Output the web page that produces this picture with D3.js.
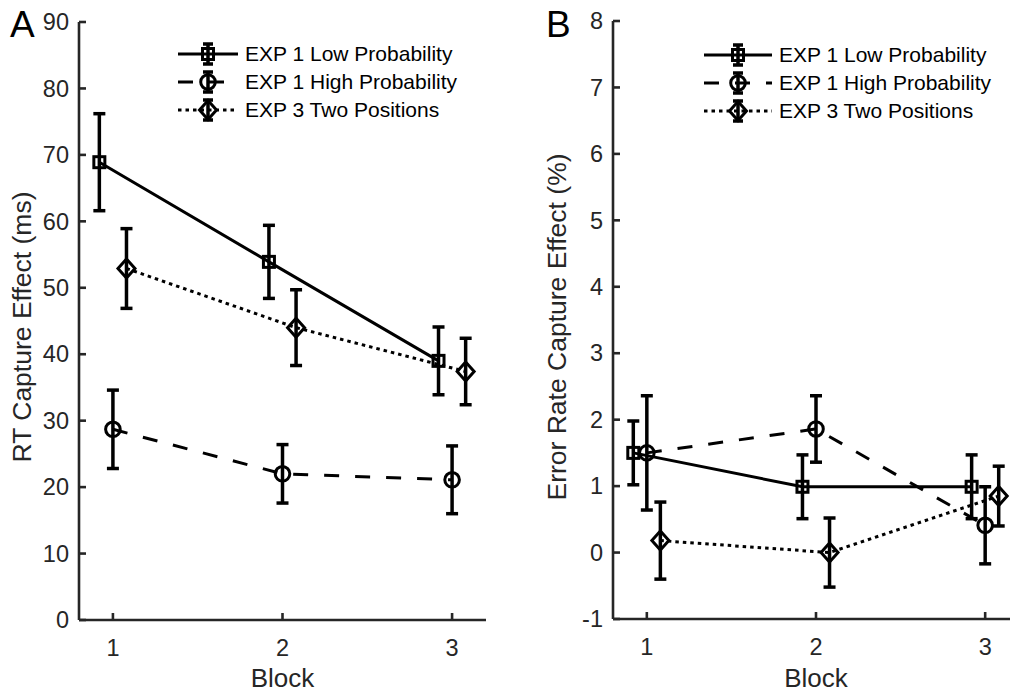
<!DOCTYPE html>
<html>
<head>
<meta charset="utf-8">
<script src="https://cdn.jsdelivr.net/npm/d3@7"></script>
<style>
  body { margin: 0; background: #fff; }
  text { font-family: "Liberation Sans", Arial, sans-serif; fill: #262626; }
</style>
</head>
<body>
<div id="chart"></div>
<script>
// data
var blocks = [1, 2, 3];
var seriesNames = ["EXP 1 Low Probability", "EXP 1 High Probability", "EXP 3 Two Positions"];
var xOffsets = [-0.08, 0, 0.08];

var rtLow = [68.9, 53.9, 39.0],  rtLowErr = [7.3, 5.5, 5.1];
var rtHigh = [28.7, 22.0, 21.1], rtHighErr = [5.9, 4.4, 5.1];
var rtTwo = [52.9, 44.0, 37.4],  rtTwoErr = [6.0, 5.7, 5.0];

var erLow = [1.5, 0.99, 0.99],   erLowErr = [0.48, 0.48, 0.48];
var erHigh = [1.5, 1.86, 0.41],  erHighErr = [0.86, 0.5, 0.58];
var erTwo = [0.18, 0.0, 0.85],   erTwoErr = [0.58, 0.52, 0.45];

var rtTicks = d3.range(0, 91, 10);
var erTicks = d3.range(-1, 9, 1);

var W = 1010, H = 695;
var axisColor = "#262626";

var svg = d3.select("#chart").append("svg")
    .attr("width", W)
    .attr("height", H);

var styles = [
    {dash: null, marker: "square"},
    {dash: "15,16", marker: "circle"},
    {dash: "3.5,4", marker: "diamond"}
];

function drawMarker(g, type, x, y) {
    if (type == "square") {
        g.append("rect").attr("x", x - 5.5).attr("y", y - 5.5)
            .attr("width", 11).attr("height", 11)
            .attr("fill", "none").attr("stroke", "#000").attr("stroke-width", 3);
    } else if (type == "circle") {
        g.append("circle").attr("cx", x).attr("cy", y).attr("r", 7.3)
            .attr("fill", "none").attr("stroke", "#000").attr("stroke-width", 3);
    } else {
        g.append("path")
            .attr("d", "M" + x + "," + (y - 9.5) + "L" + (x + 8.5) + "," + y +
                       "L" + x + "," + (y + 9.5) + "L" + (x - 8.5) + "," + y + "Z")
            .attr("fill", "none").attr("stroke", "#000").attr("stroke-width", 3);
    }
}

function errBar(g, x, y1, y2, capW) {
    g.append("line").attr("x1", x).attr("x2", x).attr("y1", y1).attr("y2", y2)
        .attr("stroke", "#000").attr("stroke-width", 3.5);
    [y1, y2].forEach(function(yy) {
        g.append("line").attr("x1", x - capW / 2).attr("x2", x + capW / 2)
            .attr("y1", yy).attr("y2", yy)
            .attr("stroke", "#000").attr("stroke-width", 3.5);
    });
}

function panel(opt) {
    var g = svg.append("g");
    var x = d3.scaleLinear().domain([0.8, 3.2]).range(opt.xRange);
    var y = d3.scaleLinear().domain(opt.yDomain).range(opt.yRange);

    // data lines
    opt.series.forEach(function(s, i) {
        var pts = blocks.map(function(b, j) { return [x(b + xOffsets[i]), y(s.mean[j])]; });
        g.append("path")
            .attr("d", d3.line()(pts))
            .attr("fill", "none")
            .attr("stroke", "#000")
            .attr("stroke-width", 3)
            .attr("stroke-dasharray", styles[i].dash);
    });

    // error bars + markers
    opt.series.forEach(function(s, i) {
        blocks.forEach(function(b, j) {
            var cx = x(b + xOffsets[i]);
            errBar(g, cx, y(s.mean[j] + s.err[j]), y(s.mean[j] - s.err[j]), 12);
            drawMarker(g, styles[i].marker, cx, y(s.mean[j]));
        });
    });

    // axes (box off, ticks inward)
    var x0 = opt.xRange[0], y0 = opt.yRange[0];
    g.append("line").attr("x1", x0).attr("x2", x0)
        .attr("y1", opt.yRange[1]).attr("y2", y0)
        .attr("stroke", axisColor).attr("stroke-width", 2.6);
    g.append("line").attr("x1", x0).attr("x2", opt.xRange[1])
        .attr("y1", y0).attr("y2", y0)
        .attr("stroke", axisColor).attr("stroke-width", 2.6);

    opt.yTicks.forEach(function(t) {
        g.append("line").attr("x1", x0).attr("x2", x0 + 7)
            .attr("y1", y(t)).attr("y2", y(t))
            .attr("stroke", axisColor).attr("stroke-width", 2.6);
        g.append("text").attr("x", x0 - 10).attr("y", y(t))
            .attr("dy", "0.35em").attr("text-anchor", "end")
            .attr("font-size", 23.5).text(t);
    });
    blocks.forEach(function(b) {
        g.append("line").attr("x1", x(b)).attr("x2", x(b))
            .attr("y1", y0).attr("y2", y0 - 7)
            .attr("stroke", axisColor).attr("stroke-width", 2.6);
        g.append("text").attr("x", x(b)).attr("y", y0 + 36)
            .attr("text-anchor", "middle")
            .attr("font-size", 23.5).text(b);
    });

    g.append("text").attr("x", x(2)).attr("y", 687)
        .attr("text-anchor", "middle").attr("font-size", 26).text("Block");

    g.append("text")
        .attr("transform", "translate(" + opt.yLabelX + ",327) rotate(-90)")
        .attr("text-anchor", "middle").attr("font-size", 26.5)
        .text(opt.yLabel);

    g.append("text").attr("x", opt.letterX).attr("y", 37)
        .attr("font-size", 37).style("fill", "#000").text(opt.letter);

    // legend
    var lg = opt.legend;
    seriesNames.forEach(function(name, i) {
        var ly = lg.y + i * 28;
        g.append("line").attr("x1", lg.x1).attr("x2", lg.x2)
            .attr("y1", ly).attr("y2", ly)
            .attr("stroke", "#000").attr("stroke-width", 3)
            .attr("stroke-dasharray", styles[i].dash);
        var mx = (lg.x1 + lg.x2) / 2;
        errBar(g, mx, ly - 10, ly + 10, 10);
        drawMarker(g, styles[i].marker, mx, ly);
        g.append("text").attr("x", lg.tx).attr("y", ly)
            .attr("dy", "0.35em").attr("font-size", 21)
            .style("fill", "#000").text(name);
    });
}

panel({
    xRange: [79, 486],
    yDomain: [0, 90], yRange: [620, 22],
    yTicks: rtTicks,
    yLabel: "RT Capture Effect (ms)", yLabelX: 31,
    letter: "A", letterX: 10,
    legend: {x1: 178, x2: 238, tx: 245, y: 54},
    series: [
        {mean: rtLow, err: rtLowErr},
        {mean: rtHigh, err: rtHighErr},
        {mean: rtTwo, err: rtTwoErr}
    ]
});

panel({
    xRange: [613, 1019],
    yDomain: [-1, 8], yRange: [619, 21],
    yTicks: erTicks,
    yLabel: "Error Rate Capture Effect (%)", yLabelX: 566,
    letter: "B", letterX: 546,
    legend: {x1: 704, x2: 772, tx: 779, y: 55},
    series: [
        {mean: erLow, err: erLowErr},
        {mean: erHigh, err: erHighErr},
        {mean: erTwo, err: erTwoErr}
    ]
});
</script>
</body>
</html>
